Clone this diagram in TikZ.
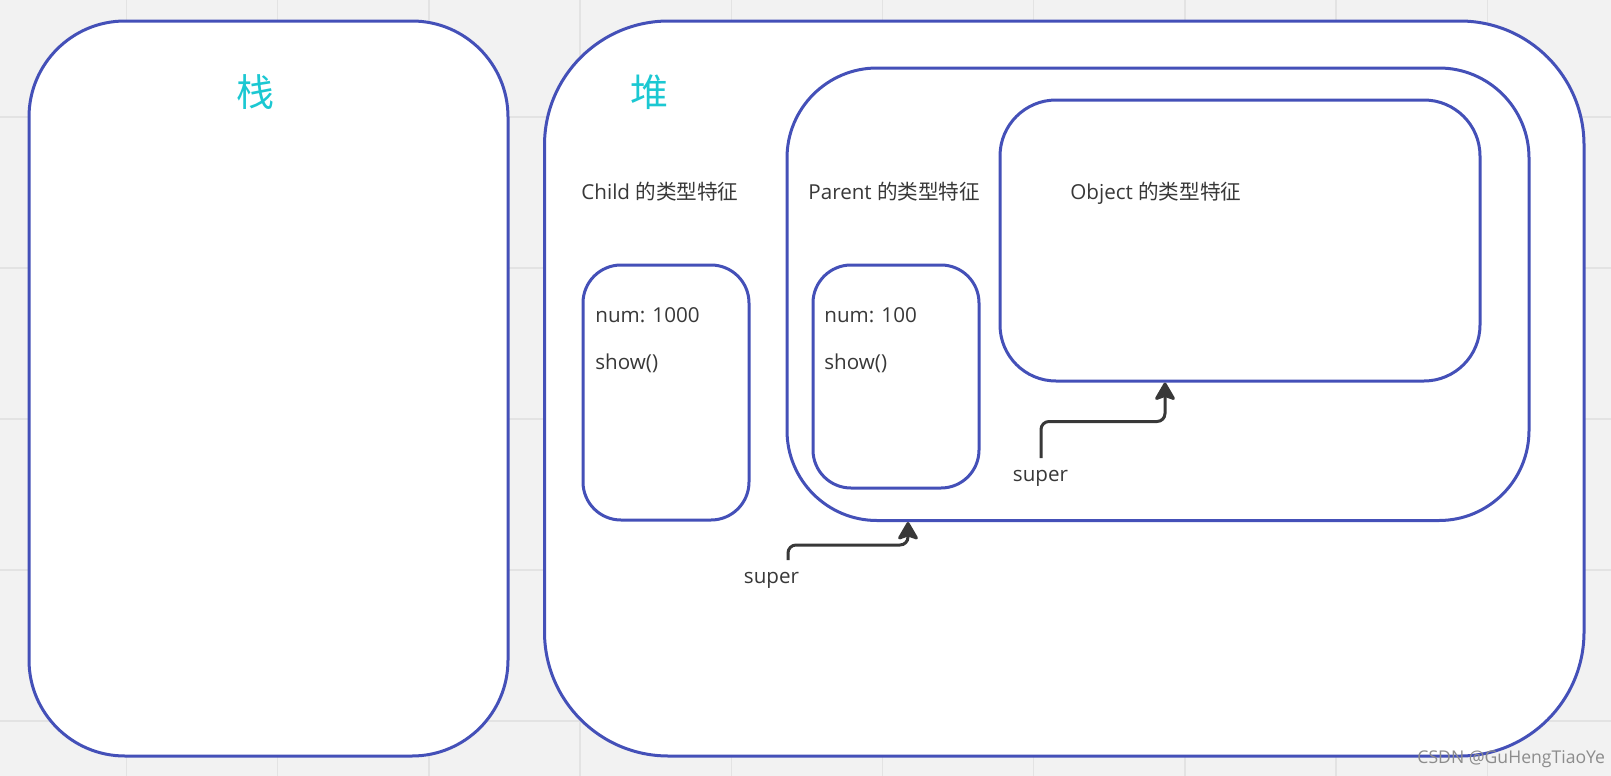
\documentclass[tikz,border=0pt]{standalone}
\usepackage{fontspec}
\setmainfont{Open Sans}
\newfontfamily\cjk{Noto Sans CJK SC}
\usetikzlibrary{arrows.meta}
\definecolor{boxblue}{HTML}{4450B8}
\definecolor{titlecyan}{HTML}{1BC8D2}
\definecolor{ink}{HTML}{383838}
\definecolor{gridbg}{HTML}{F2F2F2}
\definecolor{gridline}{HTML}{E3E3E3}
\begin{document}
\begin{tikzpicture}[x=0.5pt,y=-0.5pt,
	box/.style={rectangle,draw=boxblue,fill=white,line width=1.5pt,inner sep=0},
	lbl/.style={text=ink,font=\fontsize{10.3}{12}\selectfont,inner sep=0},
	title/.style={text=titlecyan,font=\cjk\fontsize{19}{22}\selectfont,inner sep=0},
	arr/.style={draw=ink,line width=1.5pt,rounded corners=4pt,
		-{Stealth[length=10pt,width=11.5pt,inset=2pt,round]}}]
\useasboundingbox (0,0) rectangle (1611,776);
\fill[gridbg] (0,0) rectangle (1611,776);
\foreach \k in {0,...,9}
	\draw[gridline,line width=0.75pt] (126.5+151.2*\k,0) -- (126.5+151.2*\k,776);
\foreach \k in {0,...,4}
	\draw[gridline,line width=0.75pt] (0,117+151*\k) -- (1611,117+151*\k);
\node[box,rounded corners=48pt,minimum width=239.5pt,minimum height=367.5pt] (stack) at (268.5,388.5) {};
\node[box,rounded corners=62pt,minimum width=519.75pt,minimum height=367.5pt] (heap) at (1064.25,388.5) {};
\node[box,rounded corners=45pt,minimum width=371pt,minimum height=226.25pt] (parent) at (1158,294.25) {};
\node[box,rounded corners=28pt,minimum width=240pt,minimum height=140.5pt] (object) at (1240,240.5) {};
\node[box,rounded corners=19pt,minimum width=83pt,minimum height=127.5pt] (childf) at (666,392.5) {};
\node[box,rounded corners=19pt,minimum width=83pt,minimum height=111.5pt] (parentf) at (896,376.5) {};
\node[title] (stacklbl) at (255,92.5) {栈};
\node[title] (heaplbl) at (649,92) {堆};
\node[lbl,anchor=base west] (childtxt) at (581,199) {Child {\cjk 的类型特征}};
\node[lbl,anchor=base west] (parenttxt) at (808,199) {Parent {\cjk 的类型特征}};
\node[lbl,anchor=base west] (objecttxt) at (1070,199) {Object {\cjk 的类型特征}};
\node[lbl,anchor=base west] (childnum) at (595,322.7) {num: 1000};
\node[lbl,anchor=base west] (childshow) at (595,369) {show()};
\node[lbl,anchor=base west] (parentnum) at (824,322.7) {num: 100};
\node[lbl,anchor=base west] (parentshow) at (824,369) {show()};
\coordinate (s1) at (788,560);
\coordinate (a1) at (908,545);
\node[lbl,anchor=base] (super1) at (771.5,583) {super};
\draw[arr] (s1) |- (a1) -- (a1 |- parent.south);
\coordinate (s2) at (1041,458);
\coordinate (a2) at (1165,421.5);
\node[lbl,anchor=base] (super2) at (1040.5,481.5) {super};
\draw[arr] (s2) |- (a2) -- (a2 |- object.south);
\node[text=gray!90,font=\fontsize{8.8}{10}\selectfont,inner sep=0,anchor=base west] (mark) at (1417,763) {CSDN @GuHengTiaoYe};
\end{tikzpicture}
\end{document}
